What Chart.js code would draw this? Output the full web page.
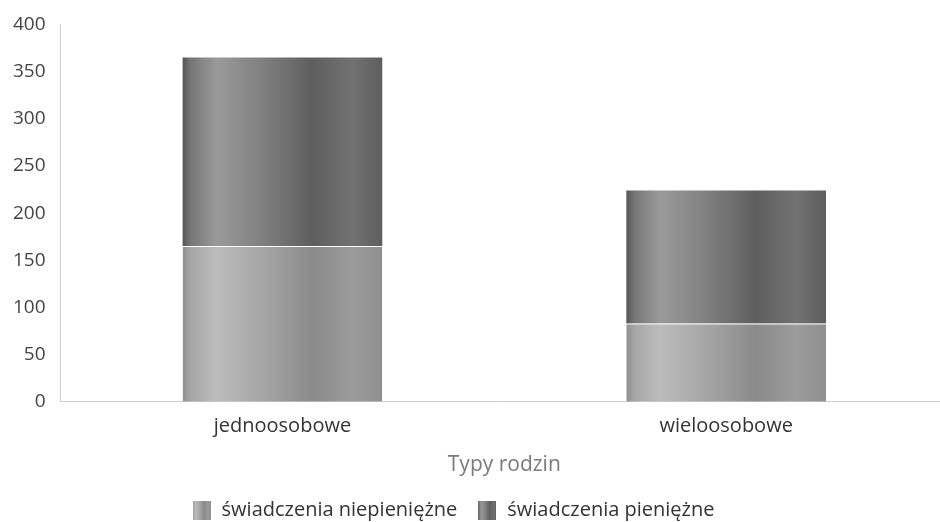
<!DOCTYPE html>
<html>
<head>
<meta charset="utf-8">
<script src="https://cdn.jsdelivr.net/npm/chart.js@4"></script>
<style>
  html, body { margin: 0; padding: 0; background: #fff; }
  #wrap { width: 940px; height: 522px; position: relative; }
</style>
</head>
<body>
<div id="wrap"><canvas id="c"></canvas></div>
<script>
var categories = ['jednoosobowe', 'wieloosobowe'];
var niepieniezne = [165, 83];
var pieniezne = [200, 141];
var seriesNames = ['świadczenia niepieniężne', 'świadczenia pieniężne'];
var yTicks = [0, 50, 100, 150, 200, 250, 300, 350, 400];

var BAR_FRAC = 0.45;

// scanned grey look: horizontal gradient across each bar
function barGradient(stops) {
    return function (ctx) {
        var chart = ctx.chart;
        if (!chart.chartArea || ctx.type !== 'data') return stops[1][1];
        var x = chart.scales.x;
        var c = x.getPixelForValue(ctx.dataIndex);
        var half = (x.width / categories.length) * BAR_FRAC / 2;
        var g = chart.ctx.createLinearGradient(c - half, 0, c + half, 0);
        stops.forEach(function (s) { g.addColorStop(s[0], s[1]); });
        return g;
    };
}

var lightStops = [[0, '#8e8e8e'], [0.04, '#a6a6a6'], [0.17, '#bcbcbc'], [0.4, '#a6a6a6'], [0.65, '#8a8a8a'], [0.85, '#9c9c9c'], [1, '#909090']];
var darkStops = [[0, '#555555'], [0.04, '#767676'], [0.17, '#9a9a9a'], [0.4, '#808080'], [0.65, '#5e5e5e'], [0.85, '#727272'], [1, '#5e5e5e']];

var legendBox = function (stops) {
    var cv = document.createElement('canvas');
    cv.width = 18; cv.height = 19;
    var c = cv.getContext('2d');
    var g = c.createLinearGradient(0, 0, 18, 0);
    stops.forEach(function (s) { g.addColorStop(s[0], s[1]); });
    c.fillStyle = g;
    c.fillRect(0, 0, 18, 19);
    return cv;
};

// the original plot runs a little past the right edge and top, legend sits left of centre
var nudge = {
    id: 'nudge',
    afterLayout: function (chart) {
        var x = chart.scales.x;
        x.right += 8;
        x.width += 8;
        x.configure();
        var y = chart.scales.y;
        y.top -= 2;
        y.height += 2;
        y.configure();
        chart.chartArea.right += 8;
        chart.chartArea.top -= 2;
        chart.legend.left -= 32;
    }
};

new Chart(document.getElementById('c').getContext('2d'), {
    type: 'bar',
    data: {
        labels: categories,
        datasets: [
            {
                label: seriesNames[0],
                data: niepieniezne,
                backgroundColor: barGradient(lightStops),
                borderColor: '#ffffff',
                borderWidth: { top: 1, left: 0, right: 0, bottom: 0 },
                borderSkipped: false,
                barPercentage: BAR_FRAC,
                categoryPercentage: 1,
                pointStyle: legendBox(lightStops)
            },
            {
                label: seriesNames[1],
                data: pieniezne,
                backgroundColor: barGradient(darkStops),
                borderWidth: 0,
                barPercentage: BAR_FRAC,
                categoryPercentage: 1,
                pointStyle: legendBox(darkStops)
            }
        ]
    },
    plugins: [nudge],
    options: {
        responsive: true,
        maintainAspectRatio: false,
        animation: false,
        layout: { padding: { left: -2, right: 0, top: 10, bottom: -8 } },
        plugins: {
            tooltip: { enabled: false },
            legend: {
                position: 'bottom',
                labels: {
                    usePointStyle: true,
                    font: { family: 'Open Sans', size: 20 },
                    color: '#333',
                    padding: 20
                }
            }
        },
        scales: {
            x: {
                stacked: true,
                grid: { display: false, drawTicks: false },
                border: { display: true, color: '#cfcfcf', dash: [1, 2] },
                ticks: { font: { family: 'Open Sans', size: 20 }, color: '#333', padding: 12 },
                title: {
                    display: true,
                    text: 'Typy rodzin',
                    font: { family: 'Open Sans', size: 21 },
                    color: '#7a7a7a',
                    padding: { top: 3, bottom: 2 }
                }
            },
            y: {
                stacked: true,
                min: 0,
                max: 400,
                afterBuildTicks: function (axis) {
                    axis.ticks = yTicks.map(function (v) { return { value: v }; });
                },
                grid: { display: false, drawTicks: false },
                border: { display: true, color: '#cfcfcf', dash: [1, 2] },
                ticks: { font: { family: 'Open Sans', size: 19 }, color: '#444', padding: 15 }
            }
        }
    }
});
</script>
</body>
</html>
